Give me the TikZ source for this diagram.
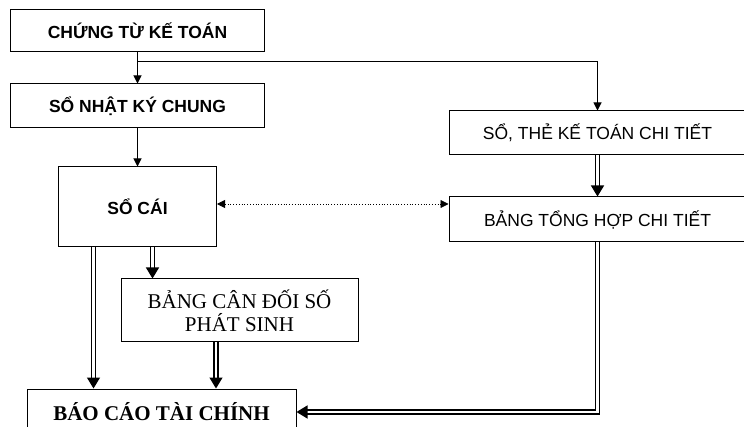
\documentclass[tikz,border=0pt]{standalone}
\usepackage{fontspec}
\setmainfont{Liberation Serif}
\newfontfamily\arialf{Liberation Sans}
\usetikzlibrary{arrows.meta,calc}
\tikzset{
    box/.style={draw, line width=1pt, inner sep=0pt},
    arr/.style={line width=1pt, -{Triangle[length=8pt,width=8pt]}},
    dbl/.style={double, double distance=2.6pt, line width=1.3pt, -{Triangle[length=11pt,width=13pt]}}
}

\begin{document}
\begin{tikzpicture}[x=1pt,y=-1pt]
            \useasboundingbox (0,0) rectangle (744,427);
            % hang tren ben trai
            \node[box, minimum width=254pt, minimum height=42pt, font=\arialf\bfseries\fontsize{17.5}{20}\selectfont] (ct) at (137.5,31) {CHỨNG TỪ KẾ TOÁN};
            \node[box, minimum width=254pt, minimum height=44pt, font=\arialf\bfseries\fontsize{17.5}{20}\selectfont] (nk) at (137.5,106) {SỔ NHẬT KÝ CHUNG};
            \node[box, minimum width=158pt, minimum height=80pt, font=\arialf\bfseries\fontsize{17.5}{20}\selectfont] (sc) at (137.5,207) {SỔ CÁI};
            % ben phai
            \node[box, minimum width=297pt, minimum height=44pt, font=\arialf\fontsize{17.5}{20}\selectfont] (ctt) at (597.5,133) {SỔ, THẺ KẾ TOÁN CHI TIẾT};
            \node[box, minimum width=297pt, minimum height=45pt, font=\arialf\fontsize{17.5}{20}\selectfont] (th) at (597.5,219.5) {BẢNG TỔNG HỢP CHI TIẾT};
            % hang duoi
            \node[box, minimum width=237pt, minimum height=63pt, align=center, font=\fontsize{21}{23}\selectfont] (cd) at (239.5,310.5) {BẢNG CÂN ĐỐI SỐ\\PHÁT SINH};
            \node[box, minimum width=269pt, minimum height=46pt, font=\bfseries\fontsize{21}{23}\selectfont] (bctc) at (161.5,412) {BÁO CÁO TÀI CHÍNH};
            % mui ten
            \coordinate (re) at (137.5,62);
            \draw[arr] (ct.south) -- (nk.north);
            \draw[arr] (re) -| (ctt.north);
            \draw[arr] (nk.south) -- (sc.north);
            \draw[dbl] (ctt.south) -- (th.north);
            \draw[dotted, line width=0.8pt, {Triangle[length=8pt,width=8pt]}-{Triangle[length=8pt,width=8pt]}] ([yshift=3pt]sc.east) -- ([yshift=3pt]sc.east -| th.west);
            \draw[dbl] ([xshift=15pt]sc.south) -- ([xshift=15pt]sc.south |- cd.north);
            \draw[dbl] ([xshift=-44pt]sc.south) -- ([xshift=-44pt]sc.south |- bctc.north);
            \draw[dbl] ([xshift=-23.5pt]cd.south) -- ([xshift=-23.5pt]cd.south |- bctc.north);
            \draw[dbl] (th.south) |- (bctc.east);
        \end{tikzpicture}
\end{document}
